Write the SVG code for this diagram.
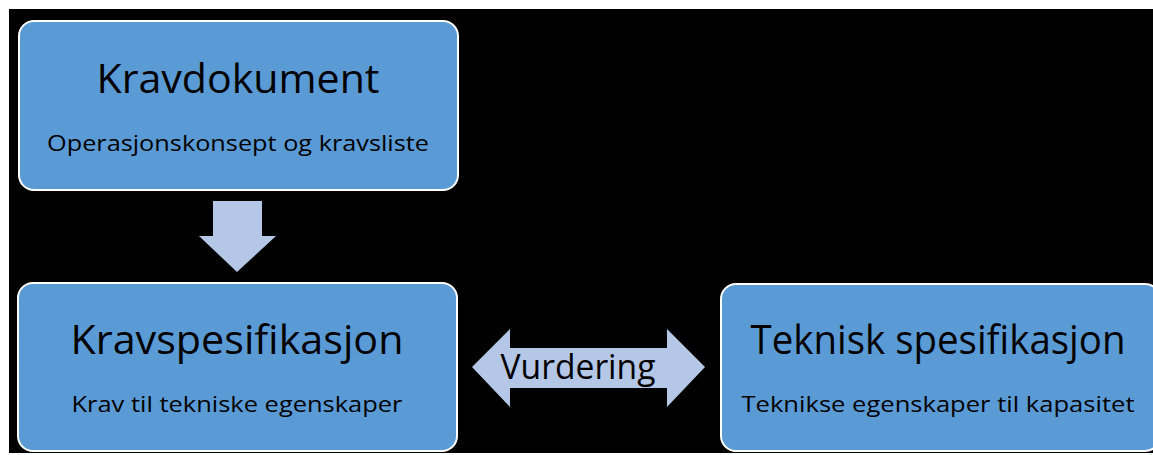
<svg xmlns="http://www.w3.org/2000/svg" width="1153" height="455" viewBox="0 0 1153 455">
<style>
.box{fill:#5B9BD5;stroke:#FFFFFF;stroke-width:2}
.arrow{fill:#B4C7E7}
.title{font-family:"Open Sans","Liberation Sans",sans-serif;font-size:40px;fill:#000;text-anchor:middle}
.sub{font-family:"Open Sans","Liberation Sans",sans-serif;font-size:22px;fill:#000;text-anchor:middle}
.lbl{font-family:"Open Sans","Liberation Sans",sans-serif;font-size:34px;fill:#000;text-anchor:middle}
</style>
<rect x="0" y="0" width="1153" height="455" fill="#FFFFFF"/>
<rect x="9" y="9" width="1144" height="444" fill="#000000"/>
<g id="connectors">
<polygon class="arrow" points="213,201 262,201 262,236 276,236 237,272 199,236 213,236"/>
<polygon class="arrow" points="472,367 510,329 510,348 667,348 667,329 705,367 667,407 667,388 510,388 510,407"/>
<text class="lbl" x="578" y="379" textLength="155" lengthAdjust="spacingAndGlyphs">Vurdering</text>
</g>
<g id="kravdokument">
<rect class="box" x="19" y="21" width="439" height="169" rx="15"/>
<text class="title" x="238" y="93" textLength="283" lengthAdjust="spacingAndGlyphs">Kravdokument</text>
<text class="sub" x="238" y="151" textLength="382" lengthAdjust="spacingAndGlyphs">Operasjonskonsept og kravsliste</text>
</g>
<g id="kravspesifikasjon">
<rect class="box" x="18" y="283" width="439" height="168" rx="15"/>
<text class="title" x="237" y="354" textLength="333" lengthAdjust="spacingAndGlyphs">Kravspesifikasjon</text>
<text class="sub" x="237" y="412" textLength="331" lengthAdjust="spacingAndGlyphs">Krav til tekniske egenskaper</text>
</g>
<g id="teknisk-spesifikasjon">
<rect class="box" x="721" y="284" width="439" height="167" rx="15"/>
<text class="title" x="938" y="354" textLength="375" lengthAdjust="spacingAndGlyphs">Teknisk spesifikasjon</text>
<text class="sub" x="938" y="412" textLength="393" lengthAdjust="spacingAndGlyphs">Teknikse egenskaper til kapasitet</text>
</g>
</svg>
